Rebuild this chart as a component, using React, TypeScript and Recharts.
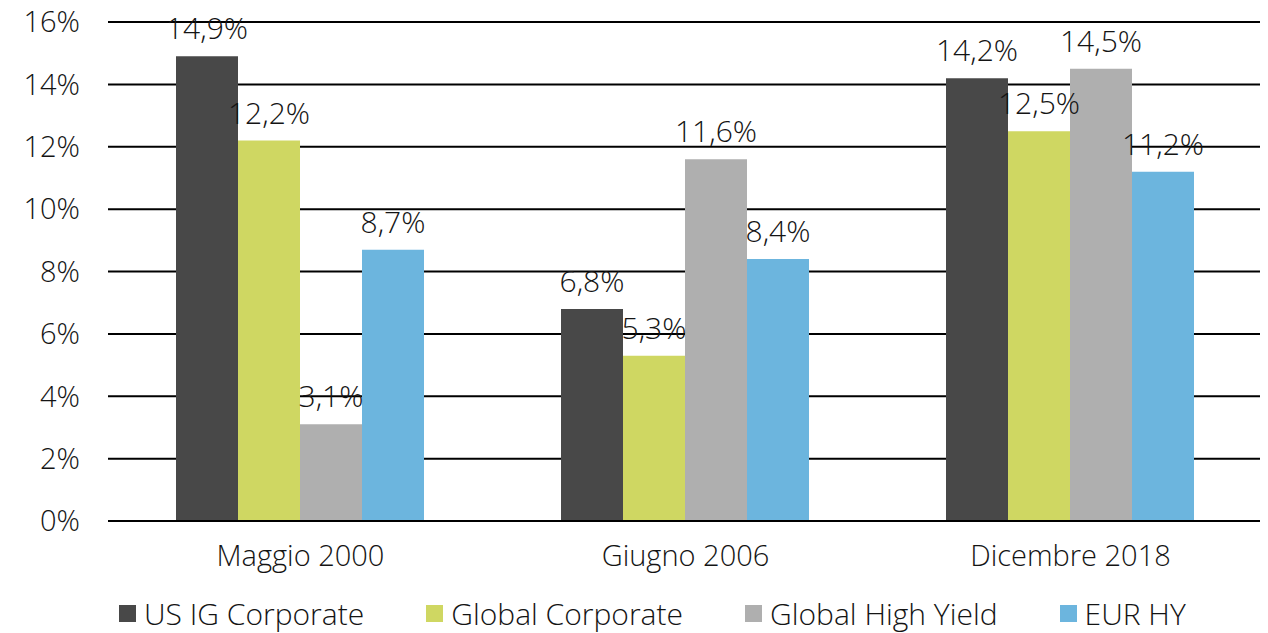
import { BarChart, Bar, XAxis, YAxis, CartesianGrid, Legend, LabelList } from "recharts";

const periods = ["Maggio 2000", "Giugno 2006", "Dicembre 2018"];
const usIg = [14.9, 6.8, 14.2];
const globalCorp = [12.2, 5.3, 12.5];
const globalHy = [3.1, 11.6, 14.5];
const eurHy = [8.7, 8.4, 11.2];
const yTicks = [0, 2, 4, 6, 8, 10, 12, 14, 16];

const SERIES = [
  { key: "usIg", name: "US IG Corporate", color: "#484848" },
  { key: "globalCorp", name: "Global Corporate", color: "#cfd762" },
  { key: "globalHy", name: "Global High Yield", color: "#afafaf" },
  { key: "eurHy", name: "EUR HY", color: "#6cb5de" },
];

const FONT = "'Open Sans', 'Noto Sans', sans-serif";
const INK = "#141414";

const data = periods.map((p, i) => ({
  period: p,
  usIg: usIg[i],
  globalCorp: globalCorp[i],
  globalHy: globalHy[i],
  eurHy: eurHy[i],
}));

const fmt = (v: number) => v.toFixed(1).replace(".", ",") + "%";

function LegendRow() {
  return (
    <div style={{ display: "flex", paddingLeft: 119, paddingTop: 5, height: 44, boxSizing: "border-box", alignItems: "center", fontFamily: FONT, fontWeight: 300, fontSize: 30, color: INK }}>
      {SERIES.map((s) => (
        <div key={s.key} style={{ display: "flex", alignItems: "center", marginRight: 62 }}>
          <span style={{ width: 17, height: 17, background: s.color, display: "inline-block", marginRight: 8 }} />
          <span>{s.name}</span>
        </div>
      ))}
    </div>
  );
}

export default function App() {
  return (
    <div style={{ fontFamily: FONT, margin: "-8px 0 0 -8px", width: 1268, height: 633 }}>
      <BarChart
        width={1268}
        height={633}
        data={data}
        margin={{ top: 22, right: 5, bottom: 0, left: 0 }}
        barGap={0}
        barCategoryGap={68}
      >
        <CartesianGrid vertical={false} stroke="#000" strokeWidth={2} />
        <XAxis
          dataKey="period"
          axisLine={{ stroke: "#000", strokeWidth: 2 }}
          tickLine={false}
          tickSize={0}
          tickMargin={24}
          height={68}
          tick={{ fontSize: 29, fill: INK, fontWeight: 300 }}
        />
        <YAxis
          domain={[0, 16]}
          ticks={yTicks}
          width={108}
          axisLine={false}
          tickLine={false}
          tickSize={0}
          tickMargin={28}
          tickFormatter={(v: number) => v + "%"}
          tick={{ fontSize: 29, fill: INK, fontWeight: 300 }}
        />
        <Legend verticalAlign="bottom" content={() => <LegendRow />} wrapperStyle={{ height: 44 }} />
        {SERIES.map((s) => (
          <Bar key={s.key} dataKey={s.key} name={s.name} fill={s.color} isAnimationActive={false}>
            <LabelList
              dataKey={s.key}
              position="top"
              offset={17}
              formatter={(v: number) => fmt(v)}
              style={{ fontSize: 30, fill: INK, fontWeight: 300 }}
            />
          </Bar>
        ))}
      </BarChart>
    </div>
  );
}
